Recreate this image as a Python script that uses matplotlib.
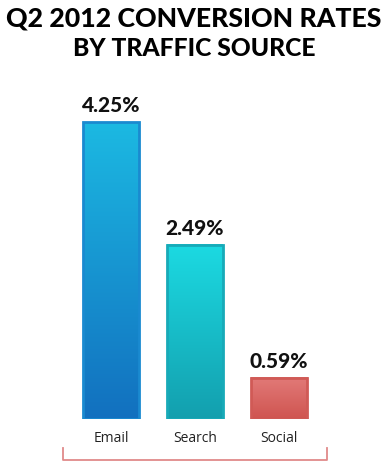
import numpy as np
import matplotlib
matplotlib.use("Agg")
import matplotlib.pyplot as plt
from matplotlib.colors import LinearSegmentedColormap
from matplotlib.patches import Rectangle

categories = ["Email", "Search", "Social"]
values = [4.25, 2.49, 0.59]
value_labels = ["4.25%", "2.49%", "0.59%"]
title_lines = ["Q2 2012 CONVERSION RATES", "BY TRAFFIC SOURCE"]
top_colors = ["#1cb9e2", "#1cdae2", "#e27a78"]
bottom_colors = ["#1270bf", "#139fae", "#cf5450"]
edge_colors = ["#1a8ad0", "#18aab8", "#d05a56"]

W, H = 388, 473
fig = plt.figure(figsize=(W / 100, H / 100), dpi=100)
renderer = fig.canvas.get_renderer()

ax_left, ax_right = 63, 327
ax_bottom, ax_top = 419, 90
ax = fig.add_axes([ax_left / W, 1 - ax_bottom / H, (ax_right - ax_left) / W, (ax_bottom - ax_top) / H])
px_per_unit = 297 / 4.25
ax.set_ylim(0, (ax_bottom - ax_top) / px_per_unit)
ax.set_xlim(-48 / 84, 2 + 48 / 84)
ax.axis("off")

width = 56 / 84
x = np.arange(len(categories))
grad = np.linspace(0, 1, 256).reshape(-1, 1)
for xi, v, tc, bc, ec, lab in zip(x, values, top_colors, bottom_colors, edge_colors, value_labels):
    cmap = LinearSegmentedColormap.from_list("g", [bc, tc])
    ax.imshow(grad, extent=[xi - width / 2, xi + width / 2, 0, v], origin="lower",
              cmap=cmap, aspect="auto", zorder=2)
    ax.add_patch(Rectangle((xi - width / 2, 0), width, v, fill=False, edgecolor=ec,
                           linewidth=2.0, zorder=3))
    ax.text(xi, v + 0.1, lab, ha="center", va="bottom", fontsize=15,
            fontweight="black", family="Lato", color="#111111", zorder=4)

# category labels
for xi, c in zip(x, categories):
    fig.text((ax_left + 48 + xi * 84) / W, 1 - 438 / H, c, ha="center", va="center",
             fontsize=10, color="#222222", family="Open Sans")

# bracket
bc = "#e08a8a"
fig.add_artist(plt.Line2D([ax_left / W, ax_left / W, ax_right / W, ax_right / W],
                          [1 - 448 / H, 1 - 460 / H, 1 - 460 / H, 1 - 448 / H],
                          color=bc, linewidth=1.3, transform=fig.transFigure))

# title, sized to fit reference width
targets = [376, 242]
ys = [19, 49]
for line, tw, y in zip(title_lines, targets, ys):
    t = fig.text(0.5, 1 - y / H, line, ha="center", va="center", fontsize=20,
                 fontweight="black", family="Lato", color="#000000")
    w = t.get_window_extent(renderer).width
    t.set_fontsize(min(26, 20 * tw / w))

fig.savefig("out.png", dpi=100, facecolor="white")
